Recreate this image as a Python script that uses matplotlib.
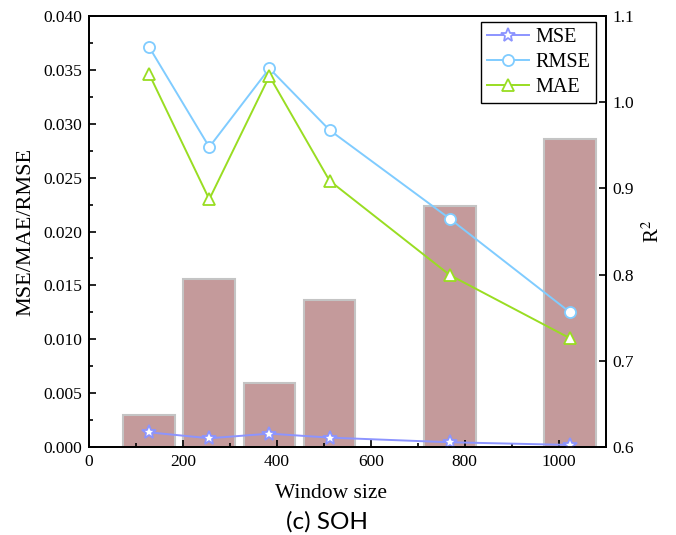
import matplotlib
matplotlib.use("Agg")
import matplotlib.pyplot as plt
from matplotlib.ticker import MultipleLocator, AutoMinorLocator

# dados
janelas = [128, 256, 384, 512, 768, 1024]
r2 = [0.637, 0.795, 0.674, 0.770, 0.880, 0.957]
mse = [0.00136, 0.00081, 0.00124, 0.00087, 0.00044, 0.00019]
rmse = [0.03712, 0.02784, 0.03514, 0.02942, 0.02119, 0.01250]
mae = [0.03462, 0.02299, 0.03443, 0.02472, 0.01596, 0.01009]

plt.rcParams['font.family'] = ['Liberation Serif', 'DejaVu Serif']
plt.rcParams['mathtext.fontset'] = 'stix'

fig = plt.figure(figsize=(6.76, 5.35), dpi=100)
ax1 = fig.add_axes([0.1317, 0.1645, 0.7643, 0.8055])
ax2 = ax1.twinx()

# barras de R2 no eixo direito, atras das linhas
ax2.bar(janelas, r2, width=110, color='#C49A9B', edgecolor='#C4C4C4', linewidth=1.5)
ax2.set_ylim(0.6, 1.1)
ax2.yaxis.set_major_locator(MultipleLocator(0.1))
ax2.set_ylabel('R$^2$', fontsize=15, labelpad=6)

ax1.set_zorder(ax2.get_zorder() + 1)
ax1.patch.set_visible(False)

ax1.plot(janelas, mse, '-*', color='#8C94FF', lw=1.4, ms=10, mfc='white', mec='#8C94FF', mew=1.3, label='MSE')
ax1.plot(janelas, rmse, '-o', color='#80CCFF', lw=1.4, ms=8, mfc='white', mec='#80CCFF', mew=1.3, label='RMSE')
ax1.plot(janelas, mae, '-^', color='#99DD22', lw=1.4, ms=9, mfc='white', mec='#99DD22', mew=1.3, label='MAE')

ax1.set_xlim(0, 1100)
ax1.set_ylim(0, 0.040)
ax1.xaxis.set_major_locator(MultipleLocator(200))
ax1.xaxis.set_minor_locator(AutoMinorLocator(2))
ax1.yaxis.set_major_locator(MultipleLocator(0.005))
ax1.yaxis.set_minor_locator(AutoMinorLocator(2))
ax1.yaxis.set_major_formatter(plt.FormatStrFormatter('%.3f'))
ax1.set_xlabel('Window size', fontsize=15.5, labelpad=6)
ax1.xaxis.set_label_coords(0.468, -0.085)
ax1.set_ylabel('MSE/MAE/RMSE', fontsize=16, labelpad=6)

for ax in (ax1, ax2):
    ax.tick_params(which='both', direction='in', labelsize=12.5, width=1.2)
    ax.tick_params(which='major', length=5, pad=5)
    ax.tick_params(which='minor', length=3)
    for s in ax.spines.values():
        s.set_linewidth(1.3)
ax1.tick_params(axis='y', right=False)
ax1.tick_params(axis='x', top=False)

leg = ax1.legend(loc='upper right', fontsize=14.5, fancybox=False, edgecolor='black',
                 framealpha=1, handlelength=2.1, handletextpad=0.3, borderpad=0.3,
                 labelspacing=0.28, borderaxespad=0, bbox_to_anchor=(0.981, 0.986))
leg.get_frame().set_linewidth(1.0)

fig.text(0.483, 0.025, '(c) SOH', ha='center', va='center', fontsize=17.5, family='Lato')

fig.savefig('out.png', dpi=100)
